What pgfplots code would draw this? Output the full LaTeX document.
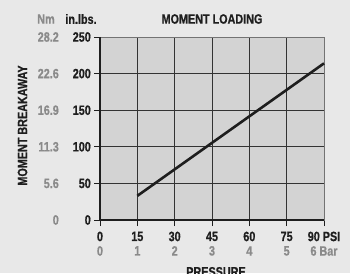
\documentclass[border=0pt]{standalone}
\usepackage{pgfplots}
\pgfplotsset{compat=1.18}
\usepackage{fontspec}
\setmainfont{Liberation Sans Bold}[FakeStretch=0.80, FakeBold=0.6]
\definecolor{bg}{HTML}{E8E8E8}
\definecolor{plotbg}{HTML}{D3D3D3}
\definecolor{nmgray}{HTML}{8A8A8A}
\definecolor{ink}{HTML}{1E1E1E}
\newcommand{\yl}[2]{\makebox[24pt][r]{\color{nmgray}#1}\hspace{8pt}\makebox[24pt][r]{#2}}
\begin{document}
\begin{tikzpicture}[x=1pt,y=1pt,font=\fontsize{13.5}{14}\selectfont]
\fill[bg] (0,0) rectangle (350,273);
\begin{axis}[
  at={(100pt,53pt)}, anchor=south west,
  scale only axis, width=224pt, height=183pt,
  xmin=0, xmax=90, ymin=0, ymax=250,
  xtick={0,15,30,45,60,75,90},
  ytick={0,50,100,150,200,250},
  xticklabels={{0\\\color{nmgray}0},{15\\\color{nmgray}1},{30\\\color{nmgray}2},{45\\\color{nmgray}3},{60\\\color{nmgray}4},{75\\\color{nmgray}5},{90 PSI\\\color{nmgray}6 Bar}},
  yticklabels={{\yl{0}{0}},{\yl{5.6}{50}},{\yl{11.3}{100}},{\yl{16.9}{150}},{\yl{22.6}{200}},{\yl{28.2}{250}}},
  xticklabel style={align=center, inner sep=0pt, anchor=north, yshift=-5.5pt, font=\fontsize{13.5}{14.5}\selectfont, text=ink},
  yticklabel style={inner sep=0pt, anchor=east, xshift=-3pt, font=\fontsize{13.5}{14}\selectfont, text=ink},
  /pgf/number format/assume math mode=true,
  tick pos=left, tick align=outside, major tick length=6pt,
  tick style={ink, line width=0.9pt},
  grid=major, major grid style={draw=black!80, line width=0.8pt},
  axis line style={draw=black!55, line width=0.9pt},
  axis background/.style={fill=plotbg},
  clip=false,
]
\addplot[ink, line width=2.6pt] coordinates {(15,33) (90,214)};
\draw[ink, line width=1.3pt] (rel axis cs:0,0) -- (rel axis cs:0,1);
\draw[ink, line width=1.1pt] (rel axis cs:0,0) -- (rel axis cs:1,0);
\end{axis}
\node[text=ink] at (212,254) {MOMENT LOADING};
\node[text=nmgray] at (46,254) {Nm};
\node[text=ink] at (81,254) {in.lbs.};
\node[text=ink, rotate=90] at (22.5,147.5) {MOMENT BREAKAWAY};
\node[text=ink, anchor=north] at (216,9.5) {PRESSURE};
\pgfresetboundingbox
\useasboundingbox (0,0) rectangle (350,273);
\end{tikzpicture}
\end{document}
